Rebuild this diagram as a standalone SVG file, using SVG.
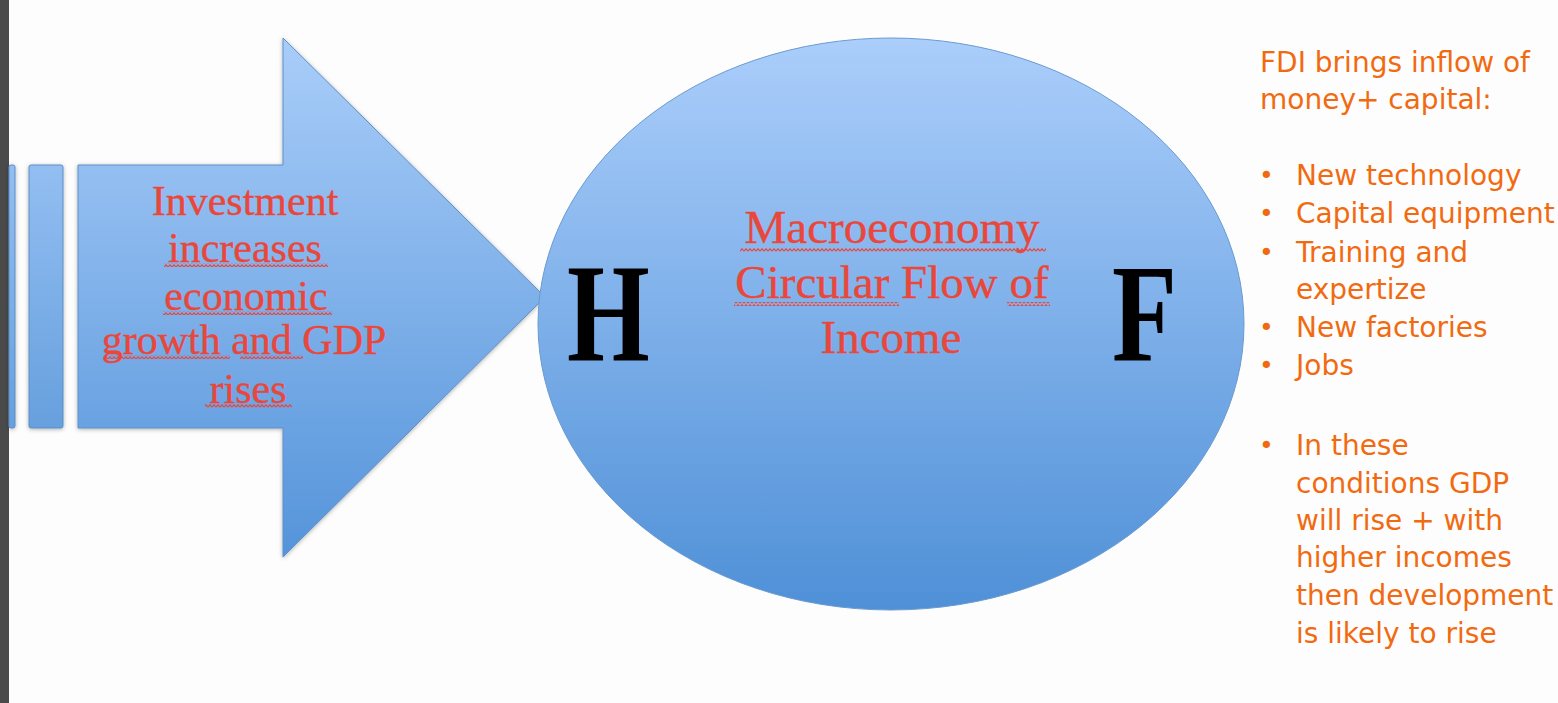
<svg xmlns="http://www.w3.org/2000/svg" width="1558" height="703" viewBox="0 0 1558 703">
  <defs>
    <linearGradient id="gArrow" gradientUnits="userSpaceOnUse" x1="0" y1="38" x2="0" y2="557">
      <stop offset="0" stop-color="#a9cdf9"/>
      <stop offset="1" stop-color="#5594da"/>
    </linearGradient>
    <linearGradient id="gBar" gradientUnits="userSpaceOnUse" x1="0" y1="165" x2="0" y2="428">
      <stop offset="0" stop-color="#93bef2"/>
      <stop offset="1" stop-color="#66a0dd"/>
    </linearGradient>
    <linearGradient id="gEll" gradientUnits="userSpaceOnUse" x1="0" y1="38" x2="0" y2="610">
      <stop offset="0" stop-color="#abcefb"/>
      <stop offset="1" stop-color="#4f90d7"/>
    </linearGradient>
    <filter id="shadow" x="-10%" y="-10%" width="120%" height="120%">
      <feDropShadow dx="0" dy="1" stdDeviation="2" flood-color="#000" flood-opacity="0.3"/>
    </filter>
    <pattern id="wave" patternUnits="userSpaceOnUse" width="4" height="4">
      <path d="M0 3.2 L2 0.8 L4 3.2" fill="none" stroke="#e9473b" stroke-width="1.2"/>
    </pattern>
  </defs>
  <style>
    .red { font-family: "Liberation Serif", "Times New Roman", serif; fill: #e9473b; text-anchor: middle; stroke: #e9473b; stroke-width: 0.4; }
    .big { font-family: "Liberation Serif", "Times New Roman", serif; font-weight: bold; fill: #000; font-size: 140px; }
    .org { font-family: "DejaVu Sans", Verdana, sans-serif; fill: #f26a10; font-size: 28px; }
    .bul { font-family: "DejaVu Sans", Verdana, sans-serif; fill: #f26a10; font-size: 25px; }
    .shape { stroke: #5d8fc6; stroke-width: 1; }
  </style>
  <rect x="0" y="0" width="1558" height="703" fill="#fdfdfd"/>
  <rect x="0" y="0" width="9" height="703" fill="#4a4a4a"/>

  <g id="arrow" filter="url(#shadow)">
    <rect x="9" y="165" width="6" height="263" rx="2" fill="url(#gBar)" class="shape"/>
    <rect x="29" y="165" width="34" height="263" rx="2" fill="url(#gBar)" class="shape"/>
    <path d="M78 165 L283 165 L283 38 L545 297 L283 557 L283 428 L78 428 Z" fill="url(#gArrow)" class="shape" stroke-linejoin="round"/>
  </g>
  <g id="arrow-label">
    <text class="red" font-size="42" x="245" y="215">Investment</text>
    <text class="red" font-size="42" x="245" y="262">increases</text>
    <text class="red" font-size="42" x="246" y="310">economic</text>
    <text class="red" font-size="42" x="244" y="354">growth and GDP</text>
    <text class="red" font-size="42" x="248" y="403">rises</text>
    <rect x="164" y="263" width="164" height="4" fill="url(#wave)"/>
    <rect x="163" y="311" width="169" height="4" fill="url(#wave)"/>
    <rect x="104" y="355" width="126" height="4" fill="url(#wave)"/>
    <rect x="240" y="355" width="63" height="4" fill="url(#wave)"/>
    <rect x="205" y="404" width="87" height="4" fill="url(#wave)"/>
  </g>

  <g id="circle">
    <ellipse cx="891" cy="324" rx="353" ry="286" fill="url(#gEll)" stroke="#6a9bd0" stroke-width="1"/>
    <text class="red" font-size="47" x="892" y="243">Macroeconomy</text>
    <text class="red" font-size="47" x="892" y="298">Circular Flow of</text>
    <text class="red" font-size="47" x="891" y="353">Income</text>
    <rect x="740" y="248" width="306" height="4" fill="url(#wave)"/>
    <rect x="734" y="302" width="165" height="4" fill="url(#wave)"/>
    <rect x="1007" y="302" width="43" height="4" fill="url(#wave)"/>
    <text class="big" transform="translate(567 360) scale(0.76 1)" x="0" y="0">H</text>
    <text class="big" transform="translate(1112 360) scale(0.76 1)" x="0" y="0">F</text>
  </g>

  <g id="notes">
    <text class="org" x="1260" y="72">FDI brings inflow of</text>
    <text class="org" x="1260" y="109">money+ capital:</text>
    <text class="bul" x="1259" y="184">•</text>
    <text class="org" x="1296" y="185">New technology</text>
    <text class="bul" x="1259" y="222">•</text>
    <text class="org" x="1296" y="223">Capital equipment</text>
    <text class="bul" x="1259" y="261">•</text>
    <text class="org" x="1296" y="262">Training and</text>
    <text class="org" x="1296" y="299">expertize</text>
    <text class="bul" x="1259" y="336">•</text>
    <text class="org" x="1296" y="337">New factories</text>
    <text class="bul" x="1259" y="374">•</text>
    <text class="org" x="1296" y="375">Jobs</text>
    <text class="bul" x="1259" y="454">•</text>
    <text class="org" x="1296" y="455">In these</text>
    <text class="org" x="1296" y="493">conditions GDP</text>
    <text class="org" x="1296" y="530">will rise + with</text>
    <text class="org" x="1296" y="567">higher incomes</text>
    <text class="org" x="1296" y="605">then development</text>
    <text class="org" x="1296" y="643">is likely to rise</text>
  </g>
</svg>
